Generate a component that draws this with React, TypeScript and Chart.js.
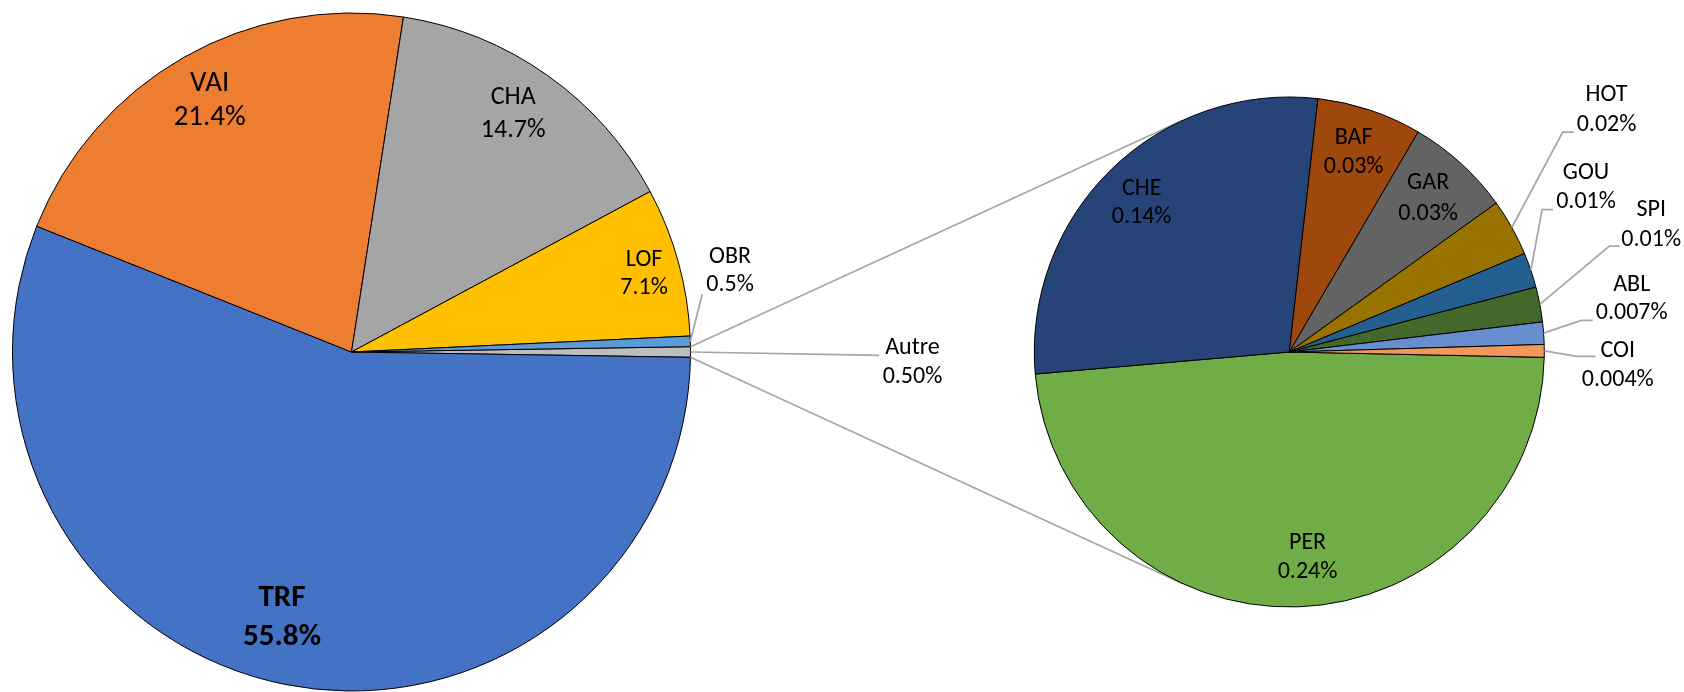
import React, { useEffect, useRef } from 'react';
import { Chart, registerables } from 'chart.js';

Chart.register(...registerables);

// ---------- DATA ----------
const mainCategories = ['Autre', 'TRF', 'VAI', 'CHA', 'LOF', 'OBR'];
const mainValues = [0.5, 55.8, 21.4, 14.7, 7.1, 0.5];
const mainPctLabels = ['0.50%', '55.8%', '21.4%', '14.7%', '7.1%', '0.5%'];

const subCategories = ['PER', 'CHE', 'BAF', 'GAR', 'HOT', 'GOU', 'SPI', 'ABL', 'COI'];
const subValues = [0.24, 0.14, 0.033, 0.033, 0.018, 0.011, 0.011, 0.007, 0.004];
const subPctLabels = ['0.24%', '0.14%', '0.03%', '0.03%', '0.02%', '0.01%', '0.01%', '0.007%', '0.004%'];

// ---------- STYLE ----------
const mainColors = ['#BDBDBD', '#4472C4', '#ED7D31', '#A5A5A5', '#FFC000', '#5B9BD5'];
const subColors = ['#70AD47', '#264478', '#9E480E', '#636363', '#997300', '#255E91', '#43682B', '#698ED0', '#F1975A'];

const FONT = "Calibri, Carlito, 'Open Sans', sans-serif";
const LEADER = '#A6A6A6';

type LabelStyle = {
  mode: 'in' | 'out';
  k?: number; shift?: number;
  dx?: number; dy?: number;
  size: number; gap: number; bold?: boolean;
  leader?: { line: 1 | 2; gap: number; dy: number; run: number };
};

const mainLabelStyle: LabelStyle[] = [
  { mode: 'out', dx: 222, dy: -3.7, size: 24, gap: 28.4, leader: { line: 1, gap: 6, dy: 7, run: 0 } },
  { mode: 'in', k: 0.811, shift: 3.3, size: 31, gap: 39.3, bold: true },
  { mode: 'in', k: 0.852, shift: 0.3, size: 29, gap: 34 },
  { mode: 'in', k: 0.849, shift: -1.1, size: 26, gap: 32.3 },
  { mode: 'in', k: 0.893, shift: 0.6, size: 24, gap: 28.3 },
  { mode: 'out', dx: 39.7, dy: -84.7, size: 24, gap: 28.3, leader: { line: 2, gap: 4, dy: 9, run: 0 } },
];

const subLabelStyle: LabelStyle[] = [
  { mode: 'in', k: 0.809, shift: -3.2, size: 24, gap: 29 },
  { mode: 'in', k: 0.823, shift: -0.45, size: 24, gap: 28.4 },
  { mode: 'in', k: 0.823, shift: -0.55, size: 24, gap: 29.4 },
  { mode: 'in', k: 0.812, shift: -0.2, size: 24, gap: 30.6 },
  { mode: 'out', dx: 94.7, dy: -132.1, size: 24, gap: 29.3, leader: { line: 2, gap: 3, dy: 7.5, run: 11 } },
  { mode: 'out', dx: 55.2, dy: -97.2, size: 24, gap: 29, leader: { line: 2, gap: 3, dy: 7.6, run: 11 } },
  { mode: 'out', dx: 111.4, dy: -94.1, size: 24, gap: 29.3, leader: { line: 2, gap: 2, dy: 6.4, run: 10 } },
  { mode: 'out', dx: 88.1, dy: -48.5, size: 24, gap: 28.4, leader: { line: 2, gap: 3, dy: 7.3, run: 11.6 } },
  { mode: 'out', dx: 73.5, dy: -0.1, size: 24, gap: 29, leader: { line: 1, gap: 5, dy: 5.6, run: 19 } },
];

function makeLabelPlugin(id: string, cats: string[], pcts: string[], styles: LabelStyle[]) {
  return {
    id,
    afterDatasetsDraw(chart: any) {
      const ctx = chart.ctx as CanvasRenderingContext2D;
      const meta = chart.getDatasetMeta(0);
      ctx.save();
      meta.data.forEach((arc: any, i: number) => {
        const st = styles[i];
        const { x, y, startAngle, endAngle, outerRadius } = arc.getProps(['x', 'y', 'startAngle', 'endAngle', 'outerRadius'], true);
        const mid = (startAngle + endAngle) / 2;
        ctx.font = `${st.bold ? 'bold ' : ''}${st.size}px ${FONT}`;
        ctx.fillStyle = '#000';
        ctx.textAlign = 'center';
        ctx.textBaseline = 'middle';
        let cx: number, y1: number;
        if (st.mode === 'in') {
          const a = mid + ((st.shift || 0) * Math.PI) / 180;
          const r = outerRadius * (st.k || 0.8);
          cx = x + r * Math.cos(a);
          const cy = y + r * Math.sin(a);
          y1 = cy - st.gap / 2;
        } else {
          const ex = x + outerRadius * Math.cos(mid);
          const ey = y + outerRadius * Math.sin(mid);
          cx = ex + (st.dx || 0);
          y1 = ey + (st.dy || 0);
          const ld = st.leader!;
          const lineText = ld.line === 1 ? cats[i] : pcts[i];
          const lineY = ld.line === 1 ? y1 : y1 + st.gap;
          const w = ctx.measureText(lineText).width;
          const endX = cx - w / 2 - ld.gap;
          const endY = lineY + ld.dy;
          ctx.strokeStyle = LEADER;
          ctx.lineWidth = 1.75;
          ctx.beginPath();
          ctx.moveTo(ex, ey);
          if (ld.run > 0) ctx.lineTo(endX - ld.run, endY);
          ctx.lineTo(endX, endY);
          ctx.stroke();
        }
        ctx.fillText(cats[i], cx, y1);
        ctx.fillText(pcts[i], cx, y1 + st.gap);
      });
      ctx.restore();
    },
  };
}

function tangentPoint(px: number, py: number, cx: number, cy: number, r: number, upper: boolean) {
  const dx = cx - px, dy = cy - py;
  const d = Math.hypot(dx, dy);
  const phi = Math.atan2(dy, dx);
  const a = Math.asin(Math.min(1, r / d));
  const ang = upper ? phi - a : phi + a;
  const L = Math.sqrt(Math.max(0, d * d - r * r));
  return [px + L * Math.cos(ang), py + L * Math.sin(ang)];
}

export default function App() {
  const leftRef = useRef<HTMLCanvasElement>(null);
  const rightRef = useRef<HTMLCanvasElement>(null);

  useEffect(() => {
    if (!leftRef.current || !rightRef.current) return;
    const left = new Chart(leftRef.current, {
      type: 'pie',
      data: {
        labels: mainCategories,
        datasets: [{ data: mainValues, backgroundColor: mainColors, borderColor: '#000', borderWidth: 1, radius: 339 } as any],
      },
      options: {
        responsive: false,
        animation: false,
        events: [],
        rotation: 89.1,
        layout: { padding: { left: 0, top: 12, right: 981, bottom: 0 } },
        plugins: { legend: { display: false }, tooltip: { enabled: false } },
      },
      plugins: [makeLabelPlugin('mainLabels', mainCategories, mainPctLabels, mainLabelStyle)],
    });

    const connectorPlugin = {
      id: 'connectors',
      beforeDatasetsDraw(chart: any) {
        const ctx = chart.ctx as CanvasRenderingContext2D;
        const lArc: any = left.getDatasetMeta(0).data[0];
        const rArc: any = chart.getDatasetMeta(0).data[0];
        if (!lArc || !rArc) return;
        const L = lArc.getProps(['x', 'y', 'startAngle', 'endAngle', 'outerRadius'], true);
        const R = rArc.getProps(['x', 'y', 'outerRadius'], true);
        const p1 = [L.x + L.outerRadius * Math.cos(L.startAngle), L.y + L.outerRadius * Math.sin(L.startAngle)];
        const p2 = [L.x + L.outerRadius * Math.cos(L.endAngle), L.y + L.outerRadius * Math.sin(L.endAngle)];
        const t1 = tangentPoint(p1[0], p1[1], R.x, R.y, R.outerRadius, true);
        const t2 = tangentPoint(p2[0], p2[1], R.x, R.y, R.outerRadius, false);
        ctx.save();
        ctx.strokeStyle = LEADER;
        ctx.lineWidth = 1.75;
        ctx.beginPath();
        ctx.moveTo(p1[0], p1[1]);
        ctx.lineTo(t1[0], t1[1]);
        ctx.moveTo(p2[0], p2[1]);
        ctx.lineTo(t2[0], t2[1]);
        ctx.stroke();
        ctx.restore();
      },
    };

    const right = new Chart(rightRef.current, {
      type: 'pie',
      data: {
        labels: subCategories,
        datasets: [{ data: subValues, backgroundColor: subColors, borderColor: '#000', borderWidth: 1, radius: 255 } as any],
      },
      options: {
        responsive: false,
        animation: false,
        events: [],
        rotation: 91.2,
        layout: { padding: { left: 1000, top: 12, right: 105.4, bottom: 0 } },
        plugins: { legend: { display: false }, tooltip: { enabled: false } },
      },
      plugins: [connectorPlugin, makeLabelPlugin('subLabels', subCategories, subPctLabels, subLabelStyle)],
    });

    return () => {
      right.destroy();
      left.destroy();
    };
  }, []);

  const canvasStyle: React.CSSProperties = { position: 'absolute', left: 0, top: 0, width: 1684, height: 692 };
  return (
    <div style={{ position: 'absolute', left: 0, top: 0, width: 1684, height: 692, background: '#fff', overflow: 'hidden' }}>
      <canvas ref={leftRef} width={1684} height={692} style={canvasStyle} />
      <canvas ref={rightRef} width={1684} height={692} style={canvasStyle} />
    </div>
  );
}
